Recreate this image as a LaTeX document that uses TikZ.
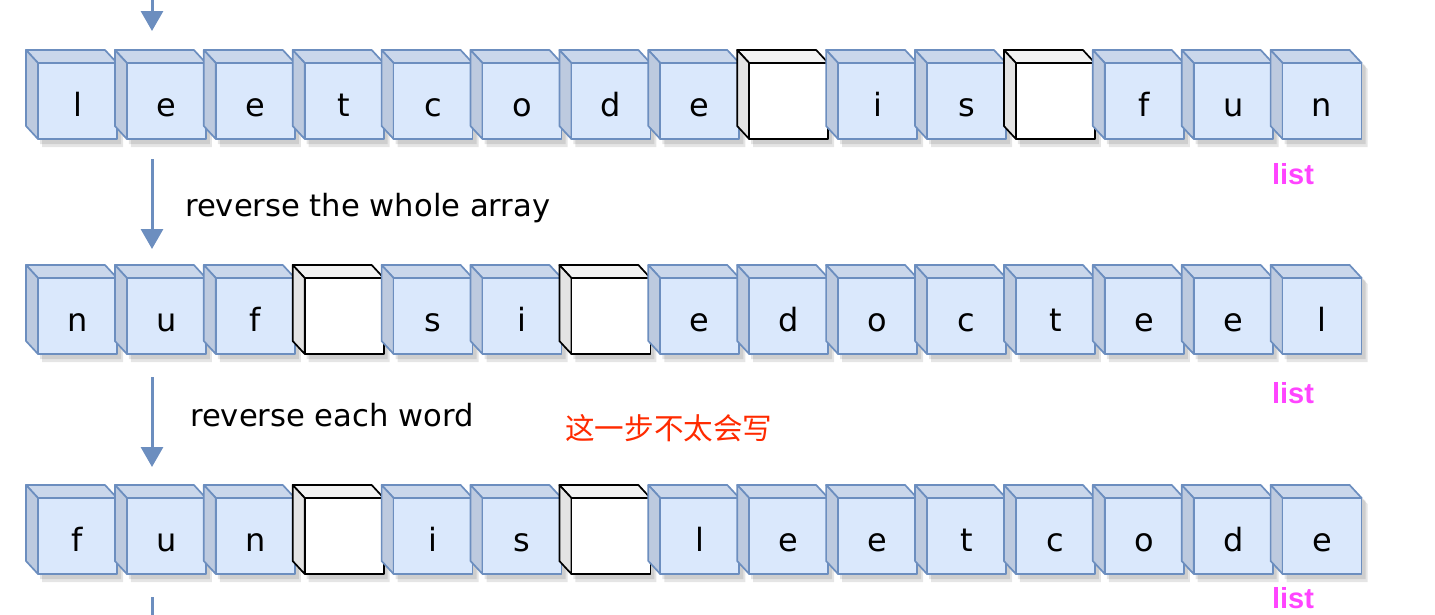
\documentclass[tikz,border=0pt]{standalone}
\usepackage{fontspec}
\setmainfont{DejaVu Sans}
\newfontfamily\cjk{Noto Sans CJK SC}
\newfontfamily\lbl{Liberation Sans}
\usetikzlibrary{arrows.meta,calc}
\definecolor{cubefill}{HTML}{DAE8FC}
\definecolor{cubeline}{HTML}{6C8EBF}
\definecolor{cubetopc}{HTML}{CAD7EB}
\definecolor{cubesidec}{HTML}{BDCADF}
\definecolor{blanktopc}{HTML}{F2F2F2}
\definecolor{blanksidec}{HTML}{E3E3E3}
\definecolor{listpink}{HTML}{FF44FF}
\definecolor{notered}{HTML}{FF2A00}
\def\blankmark{-}
\tikzset{
  face/.style={rectangle, minimum width=79pt, minimum height=76pt, inner sep=0pt,
    text height=30pt, text depth=0pt,
    line width=1.7pt, line join=round, font=\fontsize{32}{32}\selectfont},
  cube/.style={face, draw=cubeline, fill=cubefill},
  blank/.style={face, draw=black, fill=white},
  cube-top/.style={draw=cubeline, fill=cubetopc, line width=1.7pt, line join=round},
  cube-side/.style={draw=cubeline, fill=cubesidec, line width=1.7pt, line join=round},
  blank-top/.style={draw=black, fill=blanktopc, line width=1.7pt, line join=round},
  blank-side/.style={draw=black, fill=blanksidec, line width=1.7pt, line join=round},
  flow/.style={draw=cubeline, line width=3pt, -{Triangle[length=20pt,width=22pt]}},
  steptext/.style={anchor=west, inner sep=0pt, font=\fontsize{30.6}{31}\selectfont},
  listlabel/.style={inner sep=0pt, text=listpink, font=\lbl\bfseries\fontsize{29}{29}\selectfont},
  note/.style={anchor=west, inner sep=0pt, text=notered, font=\cjk\fontsize{29.6}{30}\selectfont},
  cubeshadow/.style={fill=black, opacity=0.10}
}
\begin{document}
\begin{tikzpicture}[x=1pt,y=-1pt]
\useasboundingbox (0,0) rectangle (1435,614);
\foreach \row/\ty/\letters in {1/63/{l,e,e,t,c,o,d,e,-,i,s,-,f,u,n},
                               2/278/{n,u,f,-,s,i,-,e,d,o,c,t,e,e,l},
                               3/498/{f,u,n,-,i,s,-,l,e,e,t,c,o,d,e}}{
  \foreach \ch [count=\i from 0] in \letters {
    \pgfmathsetmacro\xl{38+88.9*\i}
    \ifx\ch\blankmark \def\kind{blank}\def\txt{}\else \def\kind{cube}\let\txt\ch\fi
    % soft shadow
    \fill[cubeshadow] (\xl+2,\ty+3) -- (\xl-10,\ty-10) -- (\xl+69,\ty-10) -- (\xl+83,\ty+3)
       -- (\xl+83,\ty+81) -- (\xl+2,\ty+81) -- cycle;
    \fill[cubeshadow] (\xl+4,\ty+6) -- (\xl-8,\ty-7) -- (\xl+71,\ty-7) -- (\xl+85,\ty+6)
       -- (\xl+85,\ty+84) -- (\xl+4,\ty+84) -- cycle;
    % top and side faces
    \path[\kind-top] (\xl,\ty) -- (\xl-12,\ty-13) -- (\xl+67,\ty-13) -- (\xl+79,\ty) -- cycle;
    \path[\kind-side] (\xl,\ty) -- (\xl-12,\ty-13) -- (\xl-12,\ty+63) -- (\xl,\ty+76) -- cycle;
    % front face
    \node[\kind] (r\row c\i) at (\xl+39.5,\ty+38) {\txt};
  }
}
% flow arrows
\coordinate (a1s) at (152,-20); \coordinate (a1e) at (152,31);
\coordinate (a2s) at (152,159); \coordinate (a2e) at (152,249);
\coordinate (a3s) at (152,377); \coordinate (a3e) at (152,467);
\coordinate (a4s) at (152,597); \coordinate (a4e) at (152,680);
\draw[flow] (a1s) -- (a1e);
\draw[flow] (a2s) -- (a2e);
\draw[flow] (a3s) -- (a3e);
\draw[flow] (a4s) -- (a4e);
% step texts
\node[steptext] (t2) at (185,208) {reverse the whole array};
\node[steptext] (t3) at (190,415) {reverse each word};
\node[note] (n3) at (565,428) {这一步不太会写};
% list labels
\node[listlabel] (l1) at (1293,174) {list};
\node[listlabel] (l2) at (1293,393) {list};
\node[listlabel] (l3) at (1293,598) {list};
\end{tikzpicture}
\end{document}
